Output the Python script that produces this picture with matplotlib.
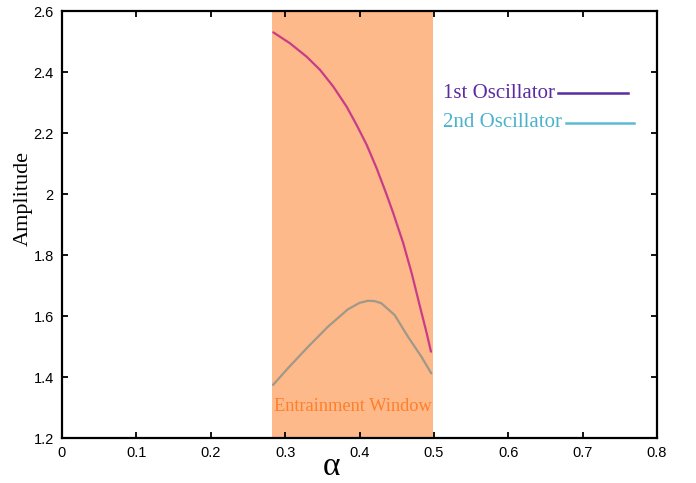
import matplotlib
matplotlib.use("Agg")
import matplotlib.pyplot as plt

# Data
alpha1 = [0.2841, 0.3066, 0.3290, 0.3469, 0.3648, 0.3828, 0.3962, 0.4097, 0.4231,
          0.4366, 0.4454, 0.4589, 0.4702, 0.4813, 0.4904, 0.4961]
amp1 = [2.530, 2.494, 2.450, 2.407, 2.352, 2.286, 2.226, 2.161, 2.084,
        1.997, 1.937, 1.838, 1.740, 1.631, 1.543, 1.483]
alpha2 = [0.2837, 0.3039, 0.3308, 0.3576, 0.3845, 0.4000, 0.4114, 0.4200, 0.4293,
          0.4473, 0.4652, 0.4831, 0.4965]
amp2 = [1.374, 1.429, 1.499, 1.565, 1.622, 1.643, 1.650, 1.649, 1.642,
        1.603, 1.532, 1.467, 1.412]
window = (0.283, 0.499)
xticks = [0, 0.1, 0.2, 0.3, 0.4, 0.5, 0.6, 0.7, 0.8]
xticklabels = ["0", "0.1", "0.2", "0.3", "0.4", "0.5", "0.6", "0.7", "0.8"]
yticks = [1.2, 1.4, 1.6, 1.8, 2.0, 2.2, 2.4, 2.6]
yticklabels = ["1.2", "1.4", "1.6", "1.8", "2", "2.2", "2.4", "2.6"]
series_names = ["1st Oscillator", "2nd Oscillator"]

fig = plt.figure(figsize=(6.96, 4.83), dpi=100)
ax = fig.add_axes([62/696, 1-438/483, 595/696, 427/483])

ax.axvspan(window[0], window[1], color="#FDB98A", lw=0, zorder=0)
ax.plot(alpha1, amp1, color="#C83C88", lw=1.6, zorder=2,
        solid_joinstyle="round", solid_capstyle="round")
ax.plot(alpha2, amp2, color="#A09888", lw=1.6, zorder=2,
        solid_joinstyle="round", solid_capstyle="round")

ax.set_xlim(0, 0.8)
ax.set_ylim(1.2, 2.6)
ax.set_xticks(xticks)
ax.set_xticklabels(xticklabels)
ax.set_yticks(yticks)
ax.set_yticklabels(yticklabels)
for lab in ax.get_xticklabels() + ax.get_yticklabels():
    lab.set_fontfamily("Liberation Sans")
    lab.set_fontsize(10.5)
ax.tick_params(direction="in", length=4, width=1.3, top=True, right=True, pad=6)
for s in ax.spines.values():
    s.set_linewidth(1.6)

xl = ax.set_xlabel("α", fontfamily="Liberation Serif", fontsize=24)
xl.set_va("baseline")
ax.xaxis.set_label_coords((331-62)/595, (438-475)/427)
yl = ax.set_ylabel("Amplitude", fontfamily="Liberation Serif", fontsize=16)
yl.set_va("center")
ax.yaxis.set_label_coords((23-62)/595, (438-198)/427)

ax.text(0.5*(window[0]+window[1]), 1.302, "Entrainment Window", color="#FF7F2A",
        fontfamily="Liberation Serif", fontsize=13.2, ha="center", va="center")

# legend-like labels
fig.text(443/696, 1-93/483, series_names[0], color="#5B2C9F", fontfamily="Liberation Serif",
         fontsize=15, ha="left", va="center")
fig.text(443/696, 1-123/483, series_names[1], color="#4BB3CC", fontfamily="Liberation Serif",
         fontsize=15, ha="left", va="center")
fig.add_artist(plt.Line2D([558/696, 628/696], [1-93/483, 1-93/483], color="#5B2C9F", lw=1.8))
fig.add_artist(plt.Line2D([566/696, 634/696], [1-123/483, 1-123/483], color="#5BBCD4", lw=1.8))

fig.savefig("out.png", dpi=100)
